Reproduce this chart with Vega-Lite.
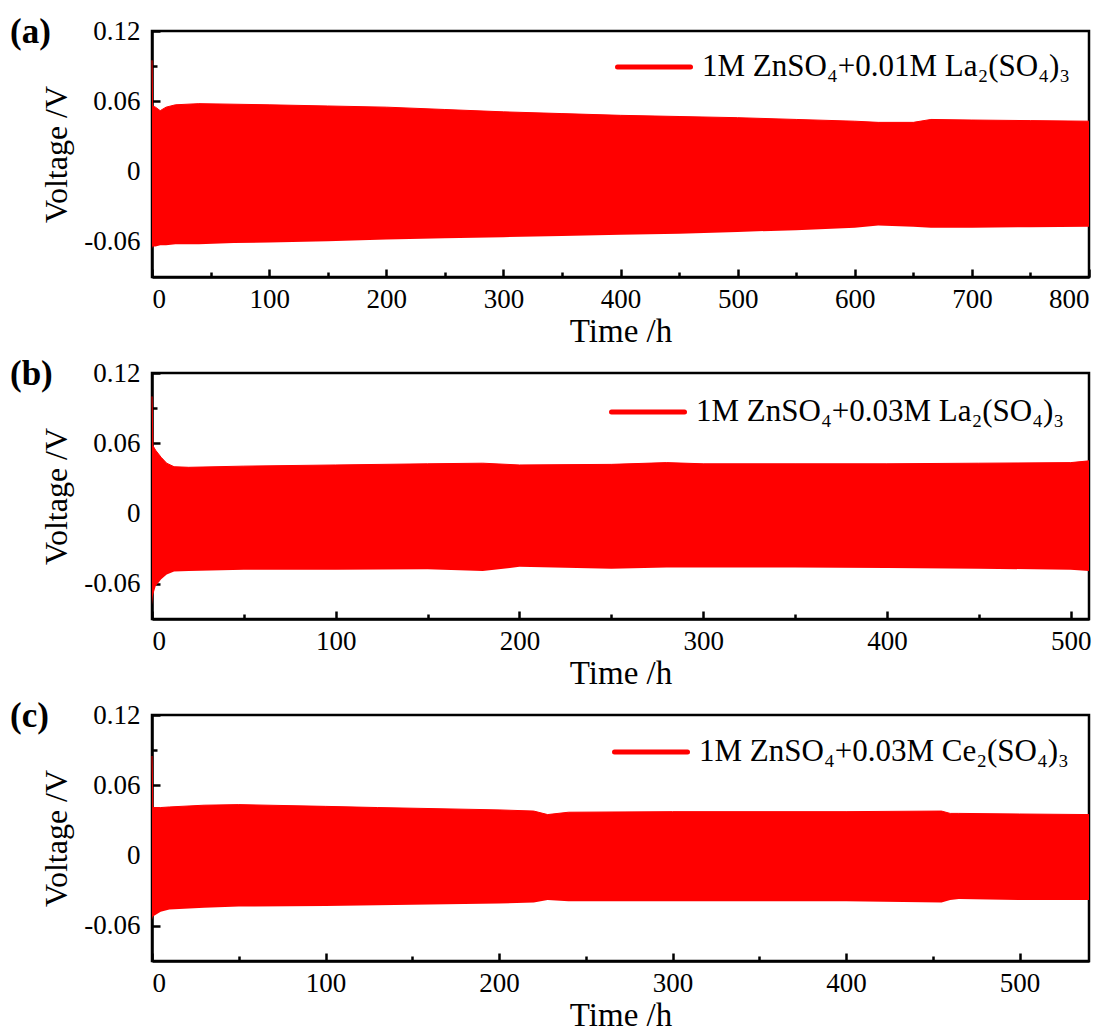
{
  "$schema": "https://vega.github.io/schema/vega-lite/v6.json",
  "padding": {"left": 8, "top": 13, "right": 10, "bottom": 2},
  "background": "white",
  "config": {
    "font": "Liberation Serif",
    "view": {"stroke": "black", "strokeWidth": 2.5},
    "axis": {
      "grid": false,
      "domainColor": "black",
      "domainWidth": 2.5,
      "tickColor": "black",
      "tickWidth": 2.5,
      "labelColor": "black",
      "labelFont": "Liberation Serif",
      "labelFontSize": 27,
      "titleFont": "Liberation Serif",
      "titleFontWeight": "normal",
      "titleColor": "black"
    },
    "legend": {
      "orient": "none",
      "symbolType": "stroke",
      "symbolSize": 5329,
      "symbolStrokeWidth": 5,
      "labelFont": "Liberation Serif",
      "labelFontSize": 31,
      "labelColor": "black",
      "labelOffset": 9,
      "labelLimit": 0,
      "title": null
    },
    "title": {"font": "Liberation Serif", "fontSize": 35, "fontWeight": "bold", "color": "black", "anchor": "start", "frame": "group"}
  },
  "vconcat": [
    {
      "width": 937,
      "height": 246,
      "title": {"text": "(a)", "dx": -142, "dy": 33, "offset": 0},
      "data": {"values": [
        {"t": 0, "hi": 0.095, "lo": -0.066},
        {"t": 0.5, "hi": 0.056, "lo": -0.064},
        {"t": 3, "hi": 0.055, "lo": -0.064},
        {"t": 7, "hi": 0.052, "lo": -0.063},
        {"t": 12, "hi": 0.055, "lo": -0.063},
        {"t": 20, "hi": 0.057, "lo": -0.062},
        {"t": 40, "hi": 0.058, "lo": -0.062},
        {"t": 70, "hi": 0.0575, "lo": -0.061},
        {"t": 100, "hi": 0.057, "lo": -0.0605},
        {"t": 150, "hi": 0.056, "lo": -0.0595},
        {"t": 200, "hi": 0.055, "lo": -0.058},
        {"t": 250, "hi": 0.053, "lo": -0.057},
        {"t": 300, "hi": 0.051, "lo": -0.056},
        {"t": 350, "hi": 0.0495, "lo": -0.055},
        {"t": 400, "hi": 0.048, "lo": -0.054},
        {"t": 450, "hi": 0.047, "lo": -0.053},
        {"t": 500, "hi": 0.046, "lo": -0.0515},
        {"t": 550, "hi": 0.0445, "lo": -0.05},
        {"t": 600, "hi": 0.043, "lo": -0.048},
        {"t": 620, "hi": 0.042, "lo": -0.046},
        {"t": 650, "hi": 0.042, "lo": -0.047},
        {"t": 665, "hi": 0.0445, "lo": -0.048},
        {"t": 700, "hi": 0.044, "lo": -0.048},
        {"t": 750, "hi": 0.0435, "lo": -0.0475},
        {"t": 800, "hi": 0.043, "lo": -0.047}
      ]},
      "resolve": {"axis": {"x": "independent", "y": "independent"}},
      "layer": [
        {
          "mark": {"type": "area", "color": "#ff0000"},
          "encoding": {
            "x": {"field": "t", "type": "quantitative", "scale": {"domain": [0, 800], "nice": false, "zero": false},
                  "axis": {"orient": "bottom", "values": [0, 100, 200, 300, 400, 500, 600, 700, 800], "tickSize": -8, "labelPadding": 17, "title": "Time /h", "titleFontSize": 33, "titlePadding": 3}},
            "y": {"field": "hi", "type": "quantitative", "scale": {"domain": [-0.09, 0.12], "nice": false, "zero": false},
                  "axis": {"orient": "left", "values": [-0.06, 0, 0.06, 0.12], "tickSize": -8, "labelPadding": 20, "title": "Voltage /V", "titleFontSize": 32, "titlePadding": 10,
                           "labelExpr": "datum.value == 0 ? '0' : (datum.value < 0 ? '-' + format(-datum.value, '.2f') : format(datum.value, '.2f'))"}},
            "y2": {"field": "lo"}
          }
        },
        {
          "mark": {"type": "line", "strokeWidth": 1},
          "encoding": {
            "x": {"field": "t", "type": "quantitative", "axis": null},
            "y": {"field": "hi", "type": "quantitative", "axis": null},
            "color": {"datum": "1M ZnSO₄+0.01M La₂(SO₄)₃", "type": "nominal", "scale": {"range": ["#ff0000"]},
                      "legend": {"legendX": 463, "legendY": -3, "encode": {"symbols": {"update": {"strokeWidth": {"value": 5}, "strokeCap": {"value": "round"}}}}}}
          }
        },
        {
          "mark": {"type": "area", "opacity": 0},
          "encoding": {
            "x": {"field": "t", "type": "quantitative", "axis": {"orient": "bottom", "values": [50, 150, 250, 350, 450, 550, 650, 750], "tickSize": -5, "labels": false, "domain": false, "title": null}},
            "y": {"field": "hi", "type": "quantitative", "axis": {"orient": "left", "values": [-0.03, 0.03, 0.09], "tickSize": -5, "labels": false, "domain": false, "title": null}},
            "y2": {"field": "lo"}
          }
        }
      ]
    },
    {
      "width": 937,
      "height": 246,
      "title": {"text": "(b)", "dx": -142, "dy": 33, "offset": 0},
      "data": {"values": [
        {"t": 0, "hi": 0.1, "lo": -0.078},
        {"t": 0.5, "hi": 0.058, "lo": -0.07},
        {"t": 2, "hi": 0.054, "lo": -0.062},
        {"t": 5, "hi": 0.048, "lo": -0.056},
        {"t": 8, "hi": 0.043, "lo": -0.052},
        {"t": 12, "hi": 0.04, "lo": -0.0495},
        {"t": 20, "hi": 0.0395, "lo": -0.049},
        {"t": 50, "hi": 0.0405, "lo": -0.048},
        {"t": 100, "hi": 0.0415, "lo": -0.048},
        {"t": 150, "hi": 0.0425, "lo": -0.0475},
        {"t": 180, "hi": 0.043, "lo": -0.049},
        {"t": 200, "hi": 0.0415, "lo": -0.0455},
        {"t": 250, "hi": 0.042, "lo": -0.047},
        {"t": 280, "hi": 0.0435, "lo": -0.046},
        {"t": 300, "hi": 0.0425, "lo": -0.046},
        {"t": 350, "hi": 0.0425, "lo": -0.046},
        {"t": 400, "hi": 0.0425, "lo": -0.0465},
        {"t": 450, "hi": 0.043, "lo": -0.047},
        {"t": 500, "hi": 0.0435, "lo": -0.048},
        {"t": 510, "hi": 0.045, "lo": -0.049}
      ]},
      "resolve": {"axis": {"x": "independent", "y": "independent"}},
      "layer": [
        {
          "mark": {"type": "area", "color": "#ff0000"},
          "encoding": {
            "x": {"field": "t", "type": "quantitative", "scale": {"domain": [0, 510], "nice": false, "zero": false},
                  "axis": {"orient": "bottom", "values": [0, 100, 200, 300, 400, 500], "tickSize": -8, "labelPadding": 17, "title": "Time /h", "titleFontSize": 33, "titlePadding": 3}},
            "y": {"field": "hi", "type": "quantitative", "scale": {"domain": [-0.09, 0.12], "nice": false, "zero": false},
                  "axis": {"orient": "left", "values": [-0.06, 0, 0.06, 0.12], "tickSize": -8, "labelPadding": 20, "title": "Voltage /V", "titleFontSize": 32, "titlePadding": 10,
                           "labelExpr": "datum.value == 0 ? '0' : (datum.value < 0 ? '-' + format(-datum.value, '.2f') : format(datum.value, '.2f'))"}},
            "y2": {"field": "lo"}
          }
        },
        {
          "mark": {"type": "line", "strokeWidth": 1},
          "encoding": {
            "x": {"field": "t", "type": "quantitative", "axis": null},
            "y": {"field": "hi", "type": "quantitative", "axis": null},
            "color": {"datum": "1M ZnSO₄+0.03M La₂(SO₄)₃", "type": "nominal", "scale": {"range": ["#ff0000"]},
                      "legend": {"legendX": 457, "legendY": 0, "encode": {"symbols": {"update": {"strokeWidth": {"value": 5}, "strokeCap": {"value": "round"}}}}}}
          }
        },
        {
          "mark": {"type": "area", "opacity": 0},
          "encoding": {
            "x": {"field": "t", "type": "quantitative", "axis": {"orient": "bottom", "values": [50, 150, 250, 350, 450], "tickSize": -5, "labels": false, "domain": false, "title": null}},
            "y": {"field": "hi", "type": "quantitative", "axis": {"orient": "left", "values": [-0.03, 0.03, 0.09], "tickSize": -5, "labels": false, "domain": false, "title": null}},
            "y2": {"field": "lo"}
          }
        }
      ]
    },
    {
      "width": 937,
      "height": 246,
      "title": {"text": "(c)", "dx": -142, "dy": 33, "offset": 0},
      "data": {"values": [
        {"t": 0, "hi": 0.085, "lo": -0.055},
        {"t": 0.5, "hi": 0.041, "lo": -0.052},
        {"t": 5, "hi": 0.041, "lo": -0.048},
        {"t": 10, "hi": 0.0415, "lo": -0.046},
        {"t": 30, "hi": 0.043, "lo": -0.0445},
        {"t": 50, "hi": 0.0435, "lo": -0.0435},
        {"t": 100, "hi": 0.042, "lo": -0.043},
        {"t": 130, "hi": 0.041, "lo": -0.0425},
        {"t": 200, "hi": 0.039, "lo": -0.041},
        {"t": 220, "hi": 0.038, "lo": -0.04},
        {"t": 228, "hi": 0.035, "lo": -0.038},
        {"t": 240, "hi": 0.037, "lo": -0.039},
        {"t": 300, "hi": 0.0375, "lo": -0.039},
        {"t": 400, "hi": 0.0375, "lo": -0.039},
        {"t": 455, "hi": 0.038, "lo": -0.04},
        {"t": 460, "hi": 0.036, "lo": -0.038},
        {"t": 465, "hi": 0.036, "lo": -0.037},
        {"t": 500, "hi": 0.0355, "lo": -0.038},
        {"t": 540, "hi": 0.035, "lo": -0.038}
      ]},
      "resolve": {"axis": {"x": "independent", "y": "independent"}},
      "layer": [
        {
          "mark": {"type": "area", "color": "#ff0000"},
          "encoding": {
            "x": {"field": "t", "type": "quantitative", "scale": {"domain": [0, 540], "nice": false, "zero": false},
                  "axis": {"orient": "bottom", "values": [0, 100, 200, 300, 400, 500], "tickSize": -8, "labelPadding": 17, "title": "Time /h", "titleFontSize": 33, "titlePadding": 3}},
            "y": {"field": "hi", "type": "quantitative", "scale": {"domain": [-0.09, 0.12], "nice": false, "zero": false},
                  "axis": {"orient": "left", "values": [-0.06, 0, 0.06, 0.12], "tickSize": -8, "labelPadding": 20, "title": "Voltage /V", "titleFontSize": 32, "titlePadding": 10,
                           "labelExpr": "datum.value == 0 ? '0' : (datum.value < 0 ? '-' + format(-datum.value, '.2f') : format(datum.value, '.2f'))"}},
            "y2": {"field": "lo"}
          }
        },
        {
          "mark": {"type": "line", "strokeWidth": 1},
          "encoding": {
            "x": {"field": "t", "type": "quantitative", "axis": null},
            "y": {"field": "hi", "type": "quantitative", "axis": null},
            "color": {"datum": "1M ZnSO₄+0.03M Ce₂(SO₄)₃", "type": "nominal", "scale": {"range": ["#ff0000"]},
                      "legend": {"legendX": 460, "legendY": -2, "encode": {"symbols": {"update": {"strokeWidth": {"value": 5}, "strokeCap": {"value": "round"}}}}}}
          }
        },
        {
          "mark": {"type": "area", "opacity": 0},
          "encoding": {
            "x": {"field": "t", "type": "quantitative", "axis": {"orient": "bottom", "values": [50, 150, 250, 350, 450], "tickSize": -5, "labels": false, "domain": false, "title": null}},
            "y": {"field": "hi", "type": "quantitative", "axis": {"orient": "left", "values": [-0.03, 0.03, 0.09], "tickSize": -5, "labels": false, "domain": false, "title": null}},
            "y2": {"field": "lo"}
          }
        }
      ]
    }
  ],
  "spacing": 96,
  "bounds": "flush",
  "resolve": {"scale": {"color": "independent"}, "legend": {"color": "independent"}}
}
